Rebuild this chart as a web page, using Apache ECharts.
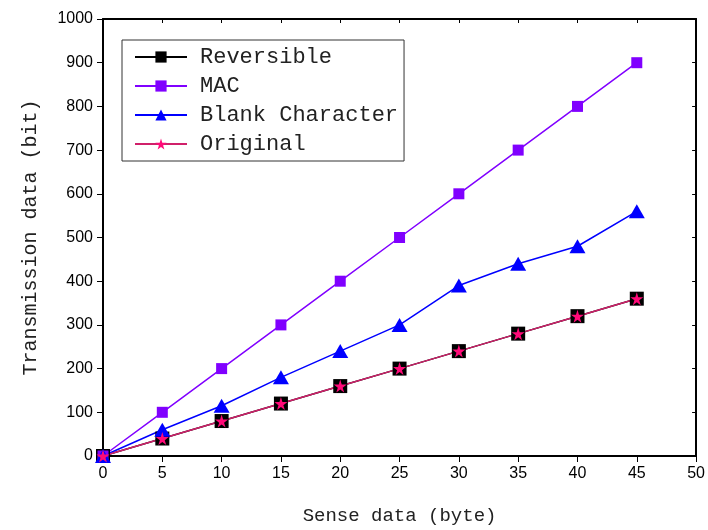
<!DOCTYPE html>
<html lang="en">
<head>
    <meta charset="UTF-8">
    <title>Transmission data</title>
    <style>
        body {margin:0}
        #chart {width:708px; height:530px}
    </style>
    <script src="https://cdn.jsdelivr.net/npm/echarts@6/dist/echarts.min.js"></script>
</head>
<body>
    <div id="chart"></div>
    <script>
        let senseData = [0, 5, 10, 15, 20, 25, 30, 35, 40, 45]
        let reversible = [0, 40, 80, 120, 160, 200, 240, 280, 320, 360]
        let mac = [0, 100, 200, 300, 400, 500, 600, 700, 800, 900]
        let blankChar = [0, 60, 115, 180, 240, 300, 390, 440, 480, 560]
        let original = [0, 40, 80, 120, 160, 200, 240, 280, 320, 360]

        let pairs = vals => senseData.map((x, i) => [x, vals[i]])
        let monoFont = '"Liberation Mono", "DejaVu Sans Mono", monospace'

        let chart = echarts.init(document.getElementById('chart'))

        let hiddenAxis = {
            axisLine: {show: true, onZero: false, lineStyle: {color: '#000', width: 2}},
            axisTick: {show: true, inside: true, length: 4, lineStyle: {color: '#000'}},
            axisLabel: {show: false},
            splitLine: {show: false}
        }

        let option = {
            animation: false,
            grid: {left: 103, right: 10, top: 19, bottom: 74},
            legend: {
                orient: 'vertical',
                left: 122, top: 40,
                padding: [6, 6, 6, 12],
                borderColor: '#333', borderWidth: 1,
                itemWidth: 52, itemHeight: 14, itemGap: 7,
                textStyle: {fontFamily: monoFont, fontSize: 22, color: '#222', padding: [0, 0, 0, 8]},
                data: ['Reversible', 'MAC', 'Blank Character', 'Original']
            },
            xAxis: [
                {
                    type: 'value', min: 0, max: 50, interval: 5,
                    name: 'Sense data (byte)', nameLocation: 'middle', nameGap: 50,
                    nameTextStyle: {fontFamily: monoFont, fontSize: 19, color: '#222'},
                    axisLine: {lineStyle: {color: '#000', width: 2}},
                    axisTick: {length: 6, lineStyle: {color: '#000'}},
                    axisLabel: {fontFamily: '"Liberation Sans", Arial', fontSize: 16, color: '#000', margin: 10},
                    splitLine: {show: false}
                },
                Object.assign({type: 'value', min: 0, max: 50, interval: 5, position: 'top'}, hiddenAxis)
            ],
            yAxis: [
                {
                    type: 'value', min: 0, max: 1000, interval: 100,
                    name: 'Transmission data (bit)', nameLocation: 'middle', nameGap: 62,
                    nameTextStyle: {fontFamily: monoFont, fontSize: 20, color: '#222'},
                    axisLine: {show: true, lineStyle: {color: '#000', width: 2}},
                    axisTick: {show: true, length: 6, lineStyle: {color: '#000'}},
                    axisLabel: {fontFamily: '"Liberation Sans", Arial', fontSize: 16, color: '#000', margin: 10,
                        formatter: v => String(v)},
                    splitLine: {show: false}
                },
                Object.assign({type: 'value', min: 0, max: 1000, interval: 100, position: 'right'}, hiddenAxis)
            ],
            series: [
                {
                    name: 'Reversible', type: 'line', data: pairs(reversible),
                    symbol: 'rect', symbolSize: 14,
                    itemStyle: {color: '#000'},
                    lineStyle: {color: '#000', width: 1.5}
                },
                {
                    name: 'MAC', type: 'line', data: pairs(mac),
                    symbol: 'rect', symbolSize: 11,
                    itemStyle: {color: '#8000ff'},
                    lineStyle: {color: '#8000ff', width: 1.5}
                },
                {
                    name: 'Blank Character', type: 'line', data: pairs(blankChar),
                    symbol: 'triangle', symbolSize: [16, 14],
                    itemStyle: {color: '#0000ff'},
                    lineStyle: {color: '#0000ff', width: 1.5}
                },
                {
                    name: 'Original', type: 'line', data: pairs(original),
                    symbol: 'path://M50,0 L61,35 L98,35 L68,57 L79,91 L50,70 L21,91 L32,57 L2,35 L39,35 Z',
                    symbolSize: 13,
                    itemStyle: {color: '#ff0a78'},
                    lineStyle: {color: '#d0206a', width: 1.5}
                }
            ]
        }

        chart.setOption(option)
    </script>
</body>
</html>
